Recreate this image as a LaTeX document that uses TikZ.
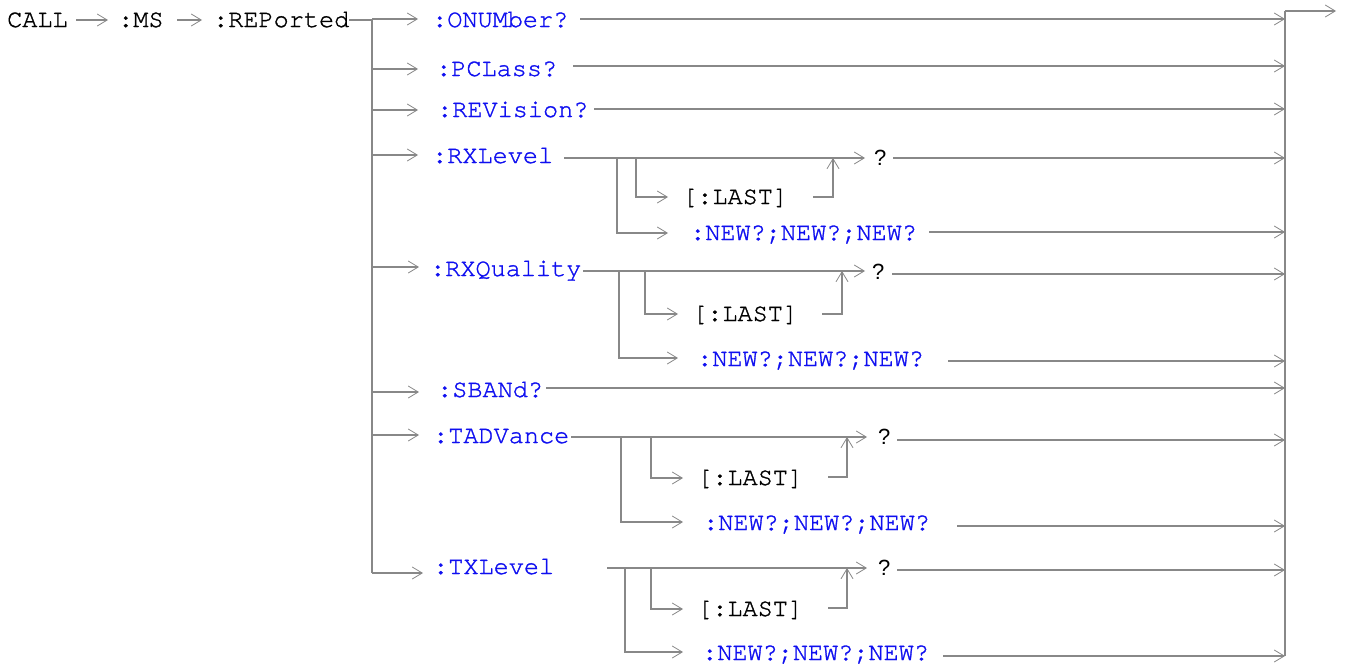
\documentclass[tikz,border=0pt]{standalone}
\usepackage{fontspec}
\usetikzlibrary{arrows.meta}
\newfontfamily\monofont[FakeBold=1.2]{texgyrecursor-regular.otf}
\newfontfamily\qfont{Liberation Sans}
\definecolor{lgray}{RGB}{136,136,136}
\definecolor{kwblue}{RGB}{15,15,240}
\begin{document}
\begin{tikzpicture}[x=1pt,y=-1pt,
  ln/.style={draw=lgray,line width=1.4pt},
  arr/.style={ln,-{Straight Barb[length=10pt,width=12pt,line width=0.8pt]}},
  kw/.style={font=\monofont\fontsize{25.2}{30}\selectfont,text=kwblue,inner sep=0pt,anchor=base west},
  bk/.style={kw,text=black},
  qm/.style={font=\qfont\fontsize{22}{26}\selectfont,text=black,inner sep=0pt,anchor=base west}]
\fill[white] (0,0) rectangle (1346,664);
\useasboundingbox (0,0) rectangle (1346,664);

% ---------- header ----------
\node[bk] (call) at (7,27) {CALL};
\coordinate (h1) at (76,20); \coordinate (h2) at (108,20);
\node[bk] (ms) at (118,27) {:MS};
\coordinate (h3) at (177,20); \coordinate (h4) at (202,20);
\node[bk] (rep) at (213,27) {:REPorted};
\coordinate (trT) at (372,20);
\coordinate (trB) at (372,573);
\draw[arr] (h1) -- (h2);
\draw[arr] (h3) -- (h4);
\draw[ln] (rep.east |- trT) -- (trT);
\draw[ln] (trT) -- (trB);

% ---------- output column ----------
\coordinate (outT) at (1285,11);
\coordinate (outB) at (1285,656);
\coordinate (outE) at (1336,11);
\draw[ln] (outB) -- (outT);
\draw[arr] (outT) -- (outE);

% ---------- :ONUMber? ----------
\coordinate (b1) at (372,19); \coordinate (t1) at (418,19);
\node[kw] (onum) at (432,27) {:ONUMber?};
\coordinate (s1) at (580,19); \coordinate (e1) at (1285,19);
\draw[arr] (b1) -- (t1);
\draw[arr] (s1) -- (e1);

% ---------- :PCLass? ----------
\coordinate (b2) at (372,69); \coordinate (t2) at (418,69);
\node[kw] (pcl) at (436,76) {:PCLass?};
\coordinate (s2) at (573,66); \coordinate (e2) at (1285,66);
\draw[arr] (b2) -- (t2);
\draw[arr] (s2) -- (e2);

% ---------- :REVision? ----------
\coordinate (b3) at (372,110); \coordinate (t3) at (418,110);
\node[kw] (rev) at (437,117) {:REVision?};
\coordinate (s3) at (594,109); \coordinate (e3) at (1285,109);
\draw[arr] (b3) -- (t3);
\draw[arr] (s3) -- (e3);

% ---------- :RXLevel ----------
\coordinate (b4) at (372,155); \coordinate (t4) at (418,155);
\node[kw] (rxl) at (432,163) {:RXLevel};
\coordinate (s4) at (564,158); \coordinate (q4) at (865,158);
\coordinate (o4) at (617,158); \coordinate (o4b) at (617,233); \coordinate (n4t) at (668,233);
\coordinate (i4) at (636,158); \coordinate (i4b) at (636,197); \coordinate (l4t) at (668,197);
\node[bk] (last4) at (682,204) {[:LAST]};
\coordinate (l4o) at (813,197); \coordinate (u4) at (833,197); \coordinate (u4t) at (833,158);
\node[qm] (qm4) at (874,165) {?};
\coordinate (qs4) at (893,158); \coordinate (qe4) at (1285,158);
\node[kw] (new4) at (690,240) {:NEW?;NEW?;NEW?};
\coordinate (ns4) at (929,232); \coordinate (ne4) at (1285,232);
\draw[arr] (b4) -- (t4);
\draw[arr] (s4) -- (q4);
\draw[arr] (o4) -- (o4b) -- (n4t);
\draw[arr] (i4) -- (i4b) -- (l4t);
\draw[arr] (l4o) -- (u4) -- (u4t);
\draw[arr] (qs4) -- (qe4);
\draw[arr] (ns4) -- (ne4);

% ---------- :RXQuality ----------
\coordinate (b5) at (372,267); \coordinate (t5) at (419,267);
\node[kw] (rxq) at (430,276) {:RXQuality};
\coordinate (s5) at (583,271); \coordinate (q5) at (865,271);
\coordinate (o5) at (619,271); \coordinate (o5b) at (619,358); \coordinate (n5t) at (678,358);
\coordinate (i5) at (645,271); \coordinate (i5b) at (645,314); \coordinate (l5t) at (678,314);
\node[bk] (last5) at (692,321) {[:LAST]};
\coordinate (l5o) at (822,314); \coordinate (u5) at (842,314); \coordinate (u5t) at (842,271);
\node[qm] (qm5) at (872,279) {?};
\coordinate (qs5) at (892,274); \coordinate (qe5) at (1285,274);
\node[kw] (new5) at (697,366) {:NEW?;NEW?;NEW?};
\coordinate (ns5) at (948,361); \coordinate (ne5) at (1285,361);
\draw[arr] (b5) -- (t5);
\draw[arr] (s5) -- (q5);
\draw[arr] (o5) -- (o5b) -- (n5t);
\draw[arr] (i5) -- (i5b) -- (l5t);
\draw[arr] (l5o) -- (u5) -- (u5t);
\draw[arr] (qs5) -- (qe5);
\draw[arr] (ns5) -- (ne5);

% ---------- :SBANd? ----------
\coordinate (b6) at (372,392); \coordinate (t6) at (419,392);
\node[kw] (sband) at (437,397) {:SBANd?};
\coordinate (s6) at (546,388); \coordinate (e6) at (1285,388);
\draw[arr] (b6) -- (t6);
\draw[arr] (s6) -- (e6);

% ---------- :TADVance ----------
\coordinate (b7) at (372,435); \coordinate (t7) at (419,435);
\node[kw] (tadv) at (433,443) {:TADVance};
\coordinate (s7) at (571,437); \coordinate (q7) at (867,437);
\coordinate (o7) at (621,437); \coordinate (o7b) at (621,522); \coordinate (n7t) at (683,522);
\coordinate (i7) at (651,437); \coordinate (i7b) at (651,478); \coordinate (l7t) at (683,478);
\node[bk] (last7) at (697,485) {[:LAST]};
\coordinate (l7o) at (828,477); \coordinate (u7) at (847,477); \coordinate (u7t) at (847,437);
\node[qm] (qm7) at (878,444) {?};
\coordinate (qs7) at (897,440); \coordinate (qe7) at (1285,440);
\node[kw] (new7) at (703,530) {:NEW?;NEW?;NEW?};
\coordinate (ns7) at (957,526); \coordinate (ne7) at (1285,526);
\draw[arr] (b7) -- (t7);
\draw[arr] (s7) -- (q7);
\draw[arr] (o7) -- (o7b) -- (n7t);
\draw[arr] (i7) -- (i7b) -- (l7t);
\draw[arr] (l7o) -- (u7) -- (u7t);
\draw[arr] (qs7) -- (qe7);
\draw[arr] (ns7) -- (ne7);

% ---------- :TXLevel ----------
\coordinate (t8) at (423,573);
\node[kw] (txl) at (433,574) {:TXLevel};
\coordinate (s8) at (607,568); \coordinate (q8) at (867,568);
\coordinate (o8) at (625,568); \coordinate (o8b) at (625,652); \coordinate (n8t) at (683,652);
\coordinate (i8) at (651,568); \coordinate (i8b) at (651,609); \coordinate (l8t) at (683,609);
\node[bk] (last8) at (697,616) {[:LAST]};
\coordinate (l8o) at (828,608); \coordinate (u8) at (847,608); \coordinate (u8t) at (847,568);
\node[qm] (qm8) at (878,575) {?};
\coordinate (qs8) at (897,570); \coordinate (qe8) at (1285,570);
\node[kw] (new8) at (702,660) {:NEW?;NEW?;NEW?};
\coordinate (ns8) at (943,656); \coordinate (ne8) at (1285,656);
\draw[arr] (trB) -- (t8);
\draw[arr] (s8) -- (q8);
\draw[arr] (o8) -- (o8b) -- (n8t);
\draw[arr] (i8) -- (i8b) -- (l8t);
\draw[arr] (l8o) -- (u8) -- (u8t);
\draw[arr] (qs8) -- (qe8);
\draw[arr] (ns8) -- (ne8);
\end{tikzpicture}
\end{document}
